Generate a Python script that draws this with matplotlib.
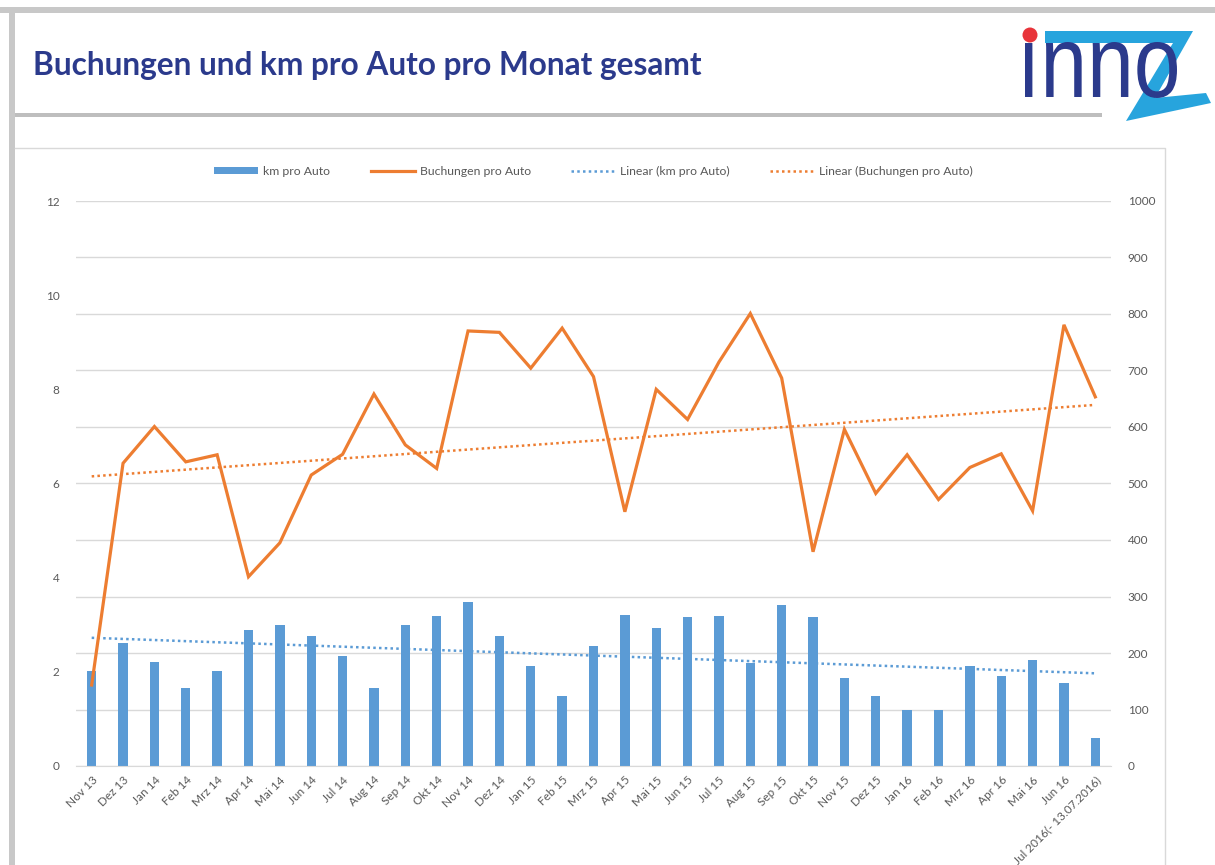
import matplotlib
matplotlib.use('Agg')
import matplotlib.pyplot as plt
import numpy as np
from matplotlib.lines import Line2D
from matplotlib.patches import Patch, Polygon, Ellipse, PathPatch, Rectangle
from matplotlib.textpath import TextPath
from matplotlib.font_manager import FontProperties
from matplotlib.transforms import Affine2D

## data
months = ['Nov 13', 'Dez 13', 'Jan 14', 'Feb 14', 'Mrz 14', 'Apr 14', 'Mai 14', 'Jun 14',
          'Jul 14', 'Aug 14', 'Sep 14', 'Okt 14', 'Nov 14', 'Dez 14', 'Jan 15', 'Feb 15',
          'Mrz 15', 'Apr 15', 'Mai 15', 'Jun 15', 'Jul 15', 'Aug 15', 'Sep 15', 'Okt 15',
          'Nov 15', 'Dez 15', 'Jan 16', 'Feb 16', 'Mrz 16', 'Apr 16', 'Mai 16', 'Jun 16',
          'Jul 2016(- 13.07.2016)']
km_pro_auto = [168, 218, 184, 138, 168, 241, 250, 230, 195, 138, 250, 265, 290, 230, 177, 124,
               212, 267, 244, 264, 265, 182, 285, 264, 156, 124, 100, 100, 177, 159, 188, 147, 50]
buchungen_pro_auto = [1.72, 6.43, 7.21, 6.46, 6.61, 4.02, 4.74, 6.18, 6.62, 7.90, 6.82, 6.32,
                      9.24, 9.21, 8.45, 9.30, 8.27, 5.40, 8.00, 7.36, 8.58, 9.61, 8.24, 4.55,
                      7.15, 5.79, 6.61, 5.66, 6.34, 6.63, 5.42, 9.37, 7.84]
left_ticks = [0, 2, 4, 6, 8, 10, 12]
right_ticks = [0, 100, 200, 300, 400, 500, 600, 700, 800, 900, 1000]

BLUE = '#5B9BD5'
ORANGE = '#ED7D31'
NAVY = '#2B3A8C'
TXT = '#595959'
GRID = '#D9D9D9'

W, H = 1215, 865
fig = plt.figure(figsize=(W / 100, H / 100), dpi=100)
fig.patch.set_facecolor('white')

def fx(x):
    return x / W

def fy(y):
    return 1 - y / H

## frame of the slide
fig.add_artist(Rectangle((0, fy(13)), 1, fy(7) - fy(13), transform=fig.transFigure,
                         facecolor='#C8C8C8', edgecolor='none'))
fig.add_artist(Rectangle((fx(9), 0), fx(15) - fx(9), fy(13), transform=fig.transFigure,
                         facecolor='#C8C8C8', edgecolor='none'))
fig.add_artist(Rectangle((fx(15), fy(117)), fx(1102) - fx(15), fy(113) - fy(117),
                         transform=fig.transFigure, facecolor='#BEBEBE', edgecolor='none'))
fig.add_artist(Line2D([fx(15), fx(1165), fx(1165)], [fy(148), fy(148), 0],
                      transform=fig.transFigure, color=GRID, lw=1.0))

fig.text(fx(33), fy(66), 'Buchungen und km pro Auto pro Monat gesamt', color=NAVY,
         fontsize=22.8, fontweight='bold', family='Lato', va='center', ha='left')

## logo
zpts = [(1045, 31), (1193, 31), (1155, 98), (1206, 93), (1211, 103), (1126, 121),
        (1173, 43), (1045, 43)]
fig.add_artist(Polygon([(fx(a), fy(b)) for a, b in zpts], closed=True,
                       transform=fig.transFigure, facecolor='#27A4DD', edgecolor='none'))
tp = TextPath((0, 0), '\u0131nno', size=1, prop=FontProperties(family='Liberation Sans'))
ext = tp.get_extents()
sx = (1177 - 1025) / ext.width
sy = (98 - 42) / ext.height
tr = (Affine2D().translate(-ext.x0, -ext.y0).scale(sx, sy).translate(1025, H - 98)
      .scale(1 / W, 1 / H))
fig.add_artist(PathPatch(tr.transform_path(tp), transform=fig.transFigure,
                         facecolor=NAVY, edgecolor='none'))
fig.add_artist(Ellipse((fx(1030), fy(35)), 15 / W, 15 / H, transform=fig.transFigure,
                       facecolor='#E8343A', edgecolor='none'))

## chart
ax = fig.add_axes([fx(76), fy(766), fx(1111) - fx(76), fy(201) - fy(766)])
ax2 = ax.twinx()

x = np.arange(len(months))
ax.bar(x, km_pro_auto, width=0.3, color=BLUE, zorder=2)
kfit = np.polyfit(x, km_pro_auto, 1)
ax.plot(x, np.polyval(kfit, x), color=BLUE, lw=1.8, linestyle=(0, (1, 1.3)), zorder=3)

ax2.plot(x, buchungen_pro_auto, color=ORANGE, lw=2.3, solid_joinstyle='miter', zorder=3)
bfit = np.polyfit(x, buchungen_pro_auto, 1)
ax2.plot(x, np.polyval(bfit, x), color=ORANGE, lw=1.8, linestyle=(0, (1, 1.3)), zorder=2)

ax.set_xlim(-0.5, len(months) - 0.5)
ax.set_ylim(0, 1000)
ax2.set_ylim(0, 12)
ax.set_yticks(right_ticks)
ax2.set_yticks(left_ticks)
ax.yaxis.tick_right()
ax2.yaxis.tick_left()
ax.grid(axis='y', color=GRID, lw=1.0, zorder=0)
ax.set_axisbelow(True)
for a in (ax, ax2):
    for s in a.spines.values():
        s.set_visible(False)
ax.spines['bottom'].set_visible(True)
ax.spines['bottom'].set_color(GRID)

ax.set_xticks(x)
ax.set_xticklabels(months, rotation=45, ha='right', va='top', rotation_mode='anchor')
ax.tick_params(axis='x', length=0, pad=6, labelsize=8.5, labelcolor=TXT)
ax.tick_params(axis='y', length=0, pad=12, labelsize=8.5, labelcolor=TXT)
ax2.tick_params(axis='y', length=0, pad=12, labelsize=8.5, labelcolor=TXT)
for lab in ax.get_xticklabels() + ax.get_yticklabels() + ax2.get_yticklabels():
    lab.set_family('Lato')

handles = [Patch(facecolor=BLUE, edgecolor='none'),
           Line2D([], [], color=ORANGE, lw=2.3),
           Line2D([], [], color=BLUE, lw=1.8, linestyle=(0, (1, 1.3))),
           Line2D([], [], color=ORANGE, lw=1.8, linestyle=(0, (1, 1.3)))]
labels = ['km pro Auto', 'Buchungen pro Auto', 'Linear (km pro Auto)',
          'Linear (Buchungen pro Auto)']
leg = ax.legend(handles, labels, loc='center', bbox_to_anchor=(0.5, (fy(171) - fy(766)) / (fy(201) - fy(766))),
                ncol=4, frameon=False, handlelength=3.6, handleheight=0.5,
                columnspacing=3.3, handletextpad=0.4, prop={'family': 'Lato', 'size': 8.8})
for t in leg.get_texts():
    t.set_color(TXT)

plt.savefig('out.png', dpi=100)
